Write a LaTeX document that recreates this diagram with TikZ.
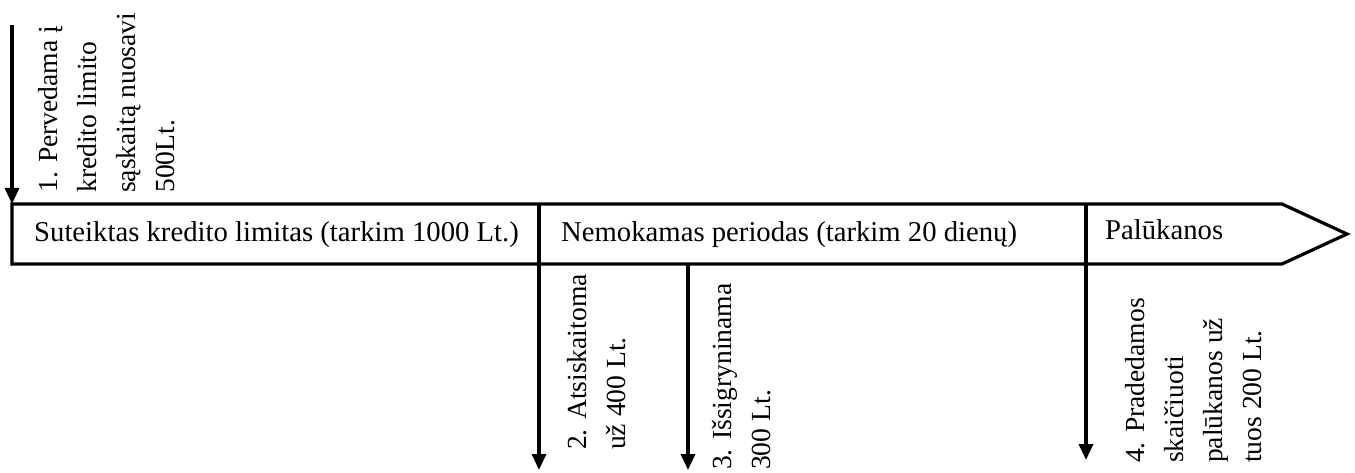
\documentclass[tikz,border=0pt]{standalone}
\usepackage{fontspec}
\setmainfont{Liberation Serif}
\usetikzlibrary{arrows.meta}

\begin{document}
\begin{tikzpicture}[x=1pt, y=1pt,
	juosta/.style = {line width=3.2pt, line join=miter},
	rodykle/.style = {line width=3.2pt, -{Triangle[width=14pt,length=16pt]}},
	zyme/.style = {inner sep=0pt, font=\fontsize{28.7}{34}\selectfont},
	vzyme/.style = {inner sep=0pt, rotate=90, anchor=north west, align=left, font=\fontsize{27.6}{39}\selectfont}]
			\useasboundingbox (0,0) rectangle (1355,472);
			\coordinate (a1) at (12,447);
			\coordinate (b1) at (12,268);
			\coordinate (a2) at (539,208);
			\coordinate (b2) at (539,2);
			\coordinate (a3) at (688,208);
			\coordinate (b3) at (688,2);
			\coordinate (a4) at (1086,208);
			\coordinate (b4) at (1086,12);
			\draw[juosta] (12,268) -- (1282,268) -- (1347,238) -- (1282,208) -- (12,208) -- cycle;
			\draw[juosta] (539,268) -- (539,208);
			\draw[juosta] (1086,268) -- (1086,208);
			\node (lim) at (34,230) [zyme, anchor=base west] {Suteiktas kredito limitas (tarkim 1000 Lt.)};
			\node (per) at (561,230) [zyme, anchor=base west] {Nemokamas periodas (tarkim 20 dienų)};
			\node (pal) at (1105,233) [zyme, anchor=base west] {Palūkanos};
			\node (t1) at (38,279) [vzyme] {1. Pervedama į\\kredito limito\\sąskaitą nuosavi\\500Lt.};
			\node (t2) at (567,22) [vzyme] {2. Atsiskaitoma\\už 400 Lt.};
			\node (t3) at (712,2) [vzyme] {3. Išsigryninama\\300 Lt.};
			\node (t4) at (1125,9) [vzyme] {4. Pradedamos\\skaičiuoti\\palūkanos už\\tuos 200 Lt.};
			\draw[rodykle] (a1) -- (b1);
			\draw[rodykle] (a2) -- (b2);
			\draw[rodykle] (a3) -- (b3);
			\draw[rodykle] (a4) -- (b4);
\end{tikzpicture}
\end{document}
